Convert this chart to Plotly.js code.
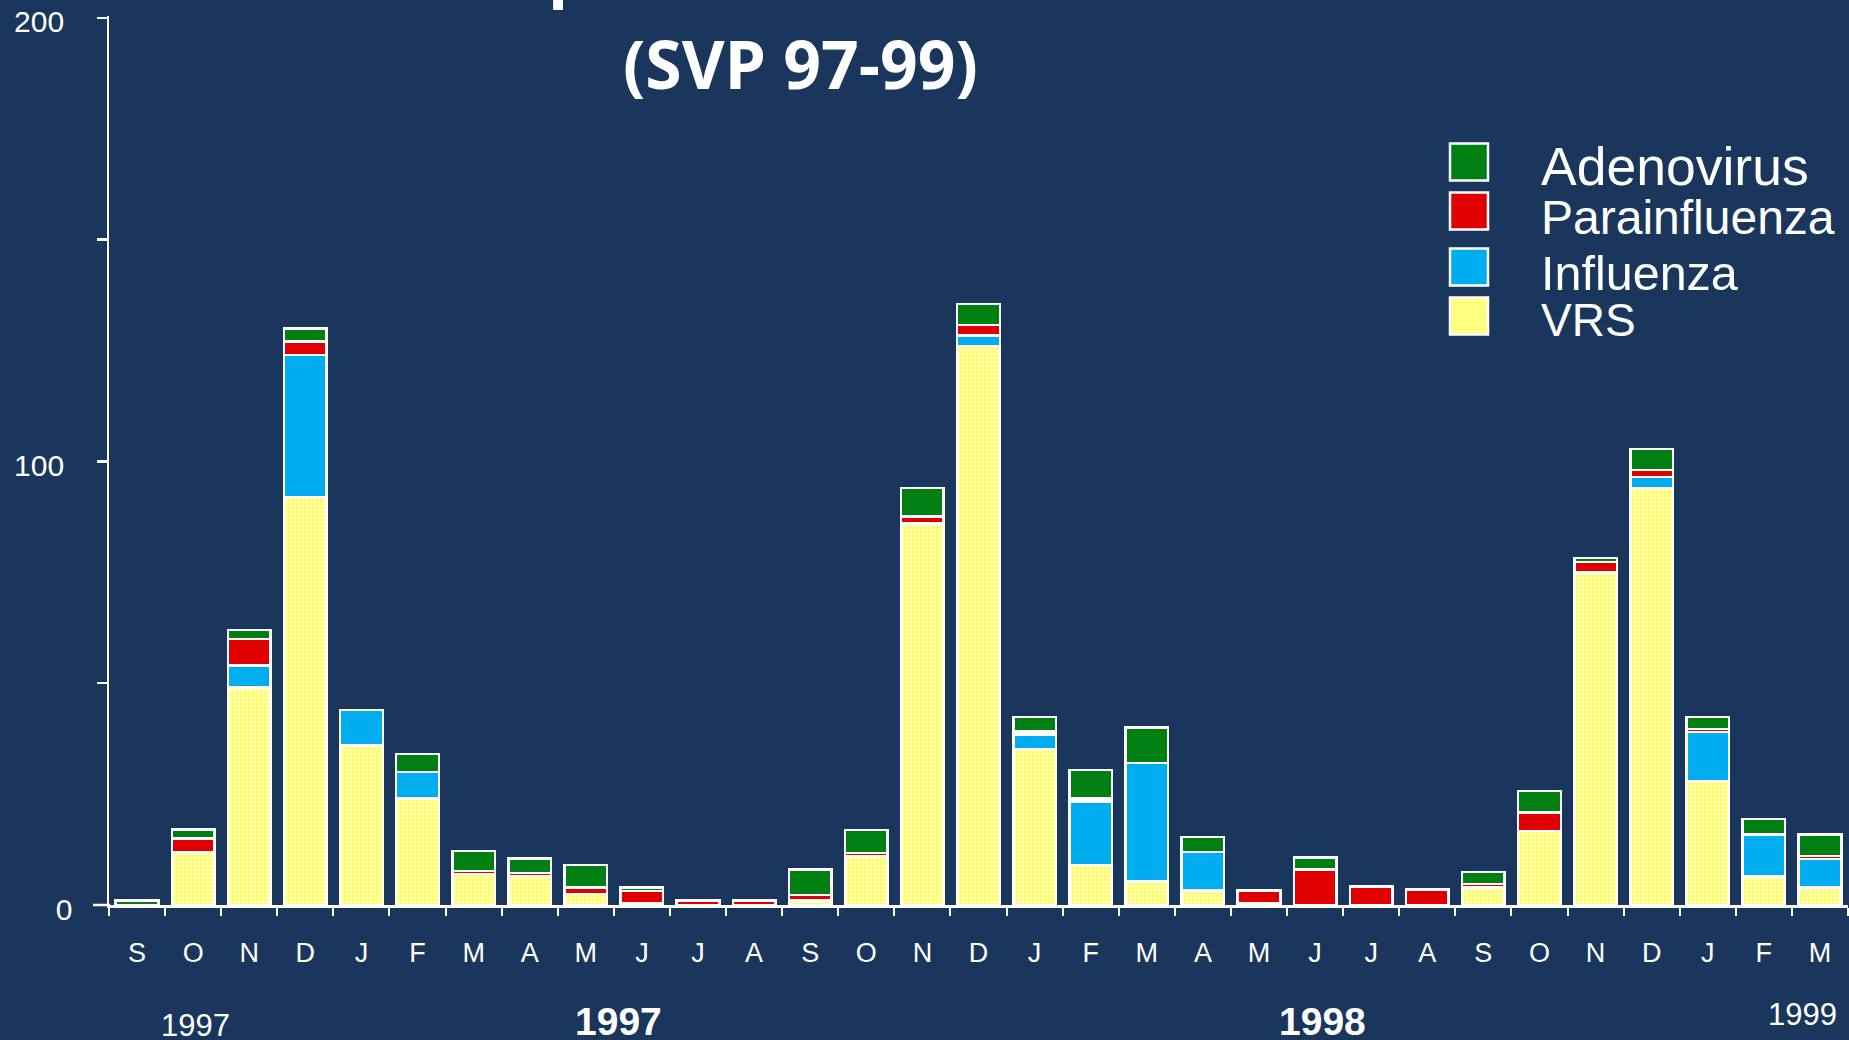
<!DOCTYPE html>
<html>
<head>
<meta charset="utf-8">
<script src="https://cdn.plot.ly/plotly-3.0.1.min.js"></script>
<style>
  html, body { margin: 0; padding: 0; background: #1A365D; overflow: hidden; }
  #chart { width: 1849px; height: 1040px; }
</style>
</head>
<body>
<div id="chart"></div>
<script>
// ---- data ----
const periods = ['Sep 96','Oct 96','Nov 96','Dec 96',
  'Jan 97','Feb 97','Mar 97','Apr 97','May 97','Jun 97','Jul 97','Aug 97','Sep 97','Oct 97','Nov 97','Dec 97',
  'Jan 98','Feb 98','Mar 98','Apr 98','May 98','Jun 98','Jul 98','Aug 98','Sep 98','Oct 98','Nov 98','Dec 98',
  'Jan 99','Feb 99','Mar 99'];
const monthLabels = ['S','O','N','D','J','F','M','A','M','J','J','A','S','O','N','D',
  'J','F','M','A','M','J','J','A','S','O','N','D','J','F','M'];
const vrs =           [0, 12, 49, 92, 36, 24, 7, 6.5, 2.5, 0.5, 0, 0, 1, 11, 86, 126, 35.2, 9, 5.3, 3.3, 0.5, 0, 0, 0, 4, 16.7, 75, 94, 27.9, 6.4, 4];
const influenza =     [0, 0, 5, 32, 8, 6, 0, 0, 0, 0, 0, 0, 0, 0, 0, 2.4, 3.2, 14.3, 26.7, 8.6, 0, 0, 0, 0, 0, 0, 0, 2.5, 11.1, 9.5, 6.4];
const parainfluenza = [0, 3, 6, 3, 0, 0, 0.7, 0.7, 1.5, 2.7, 1, 1, 1.3, 0.7, 1.6, 2.4, 0.7, 0.7, 0, 0, 2.8, 8, 4.2, 3.5, 0.7, 4.1, 2.3, 1.6, 0.7, 0, 0.7];
const adenovirus =    [1, 2, 2, 3, 0, 4, 4.5, 3.3, 5, 0.8, 0, 0, 5.7, 5.2, 6.4, 4.7, 3.3, 6.4, 8, 3.4, 0, 2.7, 0, 0, 2.7, 4.9, 0.9, 4.7, 2.7, 3.5, 4.8];
const seriesNames = ['VRS', 'Influenza', 'Parainfluenza', 'Adenovirus'];
const yTickVals = [0, 50, 100, 150, 200];
const yTickText = ['0', '', '100\u00A0', '', '200\u00A0'];
const yearLabels = ['1997', '1997', '1998', '1999'];
const titleText = '(SVP 97-99)';
const cutTitleText = 'p';

// ---- styling / geometry ----
const W = 1849, H = 1040, L = 109, R = 1, T = 16, B = 135;
const plotW = W - L - R, plotH = H - T - B;
const px = x => (x - L) / plotW;
const py = y => (H - B - y) / plotH;
const BG = '#1A365D';
const COLORS = { VRS: '#FFFF55', Influenza: '#00AEEF', Parainfluenza: '#E00000', Adenovirus: '#007F12' };
const FONT = 'Arial, "Liberation Sans", sans-serif';
const seriesValues = { VRS: vrs, Influenza: influenza, Parainfluenza: parainfluenza, Adenovirus: adenovirus };

const traces = seriesNames.map(name => {
  const marker = { color: COLORS[name], line: { color: '#FFFFFF', width: 2.5 } };
  if (name === 'VRS') {
    marker.pattern = { shape: '.', bgcolor: '#FFFF55', fgcolor: '#FFFFD2', size: 4, solidity: 0.5, fillmode: 'replace' };
  }
  return { type: 'bar', name: name, x: periods, y: seriesValues[name], marker: marker, showlegend: false, hoverinfo: 'x+y+name' };
});

// legend built from shapes + annotations
const legendItems = [
  { name: 'Adenovirus', cy: 162, ty: 166, size: 53.5 },
  { name: 'Parainfluenza', cy: 211, ty: 217, size: 48 },
  { name: 'Influenza', cy: 267, ty: 273, size: 48.5 },
  { name: 'VRS', cy: 316, ty: 320, size: 46 }
];
const shapes = [
  { type: 'line', xref: 'paper', yref: 'paper', x0: px(93), x1: px(110), y0: 0, y1: 0, line: { color: '#FFFFFF', width: 2.5 } }
];
const annotations = [];
legendItems.forEach(it => {
  shapes.push({ type: 'rect', xref: 'paper', yref: 'paper',
    x0: px(1450), x1: px(1488), y0: py(it.cy + 18.5), y1: py(it.cy - 18.5),
    fillcolor: it.name === 'VRS' ? '#FFFF80' : COLORS[it.name], line: { color: '#FFFFFF', width: 2.5 } });
  annotations.push({ xref: 'paper', yref: 'paper', x: px(1539), y: py(it.ty), xanchor: 'left', yanchor: 'middle',
    text: it.name, showarrow: false, font: { family: FONT, size: it.size, color: '#FFFFFF' } });
});
// title and year labels
annotations.push({ xref: 'paper', yref: 'paper', x: px(800), y: py(63), xanchor: 'center', yanchor: 'middle',
  text: '<b>' + titleText + '</b>', showarrow: false, font: { family: '"Open Sans", sans-serif', size: 66, color: '#FFFFFF' } });
annotations.push({ xref: 'paper', yref: 'paper', x: px(569), y: py(15), xanchor: 'center', yanchor: 'bottom',
  text: '<b>' + cutTitleText + '</b>', showarrow: false, font: { family: '"Open Sans", sans-serif', size: 66, color: '#FFFFFF' } });
const yearPos = [
  { x: 195, y: 1025, size: 31, bold: false },
  { x: 618, y: 1021, size: 39, bold: true },
  { x: 1322, y: 1021, size: 39, bold: true },
  { x: 1802, y: 1014, size: 31, bold: false }
];
yearLabels.forEach((t, i) => {
  const p = yearPos[i];
  annotations.push({ xref: 'paper', yref: 'paper', x: px(p.x), y: py(p.y), xanchor: 'center', yanchor: 'middle',
    text: p.bold ? '<b>' + t + '</b>' : t, showarrow: false, font: { family: FONT, size: p.size, color: '#FFFFFF' } });
});

const layout = {
  width: W, height: H,
  margin: { l: L, r: R, t: T, b: B, pad: 0 },
  paper_bgcolor: BG, plot_bgcolor: BG,
  barmode: 'stack', bargap: 0.24,
  showlegend: false,
  xaxis: {
    type: 'category', range: [-0.5, 30.5], fixedrange: true,
    tickmode: 'array', tickvals: periods, ticktext: monthLabels, tickson: 'boundaries',
    ticks: 'outside', ticklen: 8, tickwidth: 2, tickcolor: '#FFFFFF',
    showline: true, linecolor: '#FFFFFF', linewidth: 2.5,
    showgrid: false, zeroline: false,
    tickfont: { family: FONT, size: 27, color: '#FFFFFF' }, ticklabelstandoff: 22
  },
  yaxis: {
    range: [0, 200.4], fixedrange: true,
    tickmode: 'array', tickvals: yTickVals, ticktext: yTickText,
    ticks: 'outside', ticklen: 10, tickwidth: 2.5, tickcolor: '#FFFFFF',
    showline: true, linecolor: '#FFFFFF', linewidth: 2.5,
    showgrid: false, zeroline: false, ticklabeloverflow: 'allow',
    tickfont: { family: FONT, size: 30, color: '#FFFFFF' }, ticklabelstandoff: 18, ticklabelshift: 4
  },
  shapes: shapes,
  annotations: annotations
};

Plotly.newPlot('chart', traces, layout, { displayModeBar: false, staticPlot: true });
</script>
</body>
</html>
